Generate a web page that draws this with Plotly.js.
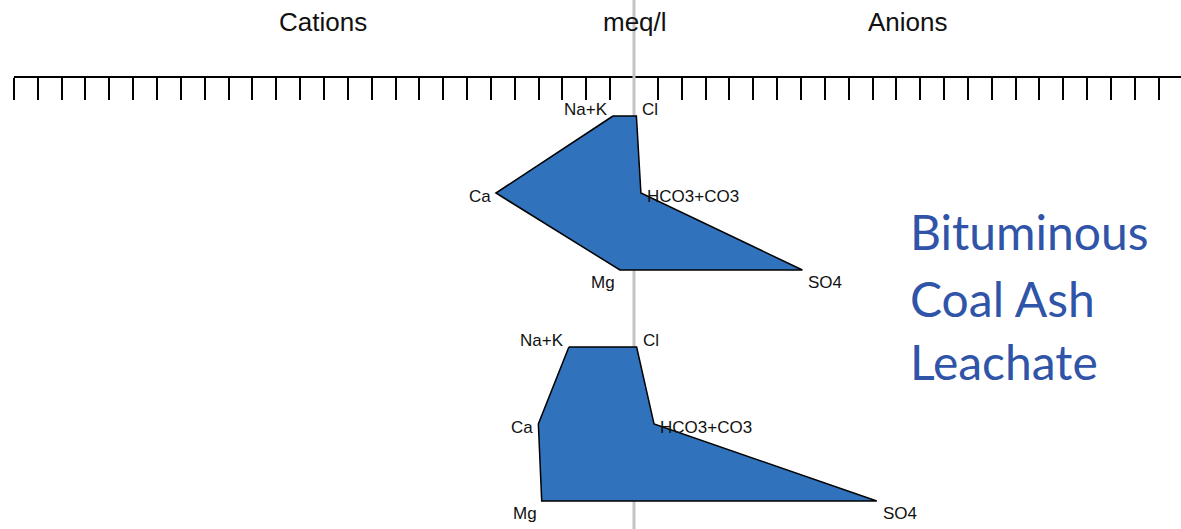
<!DOCTYPE html>
<html>
<head>
<meta charset="utf-8">
<script src="https://cdn.plot.ly/plotly-3.0.1.min.js"></script>
<style>html,body{margin:0;padding:0;background:#fff;}#chart{width:1181px;height:529px;}</style>
</head>
<body>
<div id="chart"></div>
<script>
// ---- data (meq/l) ----
var cationNames = ["Na+K", "Ca", "Mg"];
var anionNames = ["Cl", "HCO3+CO3", "SO4"];
var sample1Cations = [0.88, 5.79, 0.59];
var sample1Anions = [0.10, 0.29, 7.06];
var sample2Cations = [2.73, 4.01, 3.87];
var sample2Anions = [0.11, 0.84, 10.18];
var axisTitles = ["Cations", "meq/l", "Anions"];
var sideText = ["Bituminous", "Coal Ash", "Leachate"];

var W = 1181, H = 529;
var pxPerUnit = 23.85, x0px = 634;
var xRange = [-x0px / pxPerUnit, (W - x0px) / pxPerUnit];
var rowTop = 116, rowStep = 77;
var yRange = [(H - rowTop) / rowStep, -rowTop / rowStep];
var tickMin = -26, tickMax = 22;

var samples = [
  {cat: sample1Cations, an: sample1Anions, row0: 0},
  {cat: sample2Cations, an: sample2Anions, row0: 3}
];

var traces = [];
var annotations = [];
var labelFont = {family: "Liberation Sans, Arial, sans-serif", size: 17, color: "#111"};
var yShifts = [7, -3, -12];

samples.forEach(function (s) {
  var r = s.row0;
  var xs = [-s.cat[0], s.an[0], s.an[1], s.an[2], -s.cat[2], -s.cat[1], -s.cat[0]];
  var ys = [r, r, r + 1, r + 2, r + 2, r + 1, r];
  traces.push({
    type: "scatter", mode: "lines", x: xs, y: ys, fill: "toself",
    fillcolor: "#3172bc", line: {color: "#000", width: 1.5},
    hoverinfo: "skip", showlegend: false
  });
  for (var i = 0; i < 3; i++) {
    annotations.push({
      x: -s.cat[i], y: r + i, xref: "x", yref: "y", text: cationNames[i],
      showarrow: false, xanchor: "right", yanchor: "middle", xshift: -3, yshift: yShifts[i],
      font: labelFont
    });
    annotations.push({
      x: s.an[i], y: r + i, xref: "x", yref: "y", text: anionNames[i],
      showarrow: false, xanchor: "left", yanchor: "middle", xshift: 4, yshift: yShifts[i],
      font: labelFont
    });
  }
});

var titleX = [323, 635, 908];
axisTitles.forEach(function (t, i) {
  annotations.push({
    x: titleX[i] / W, y: 1 - 22 / H, xref: "paper", yref: "paper", text: t,
    showarrow: false, xanchor: "center", yanchor: "middle",
    font: {family: "Liberation Sans, Arial, sans-serif", size: 26, color: "#111"}
  });
});

var sideY = [232, 298, 361];
sideText.forEach(function (t, i) {
  annotations.push({
    x: 908 / W, y: 1 - sideY[i] / H, xref: "paper", yref: "paper", text: t,
    showarrow: false, xanchor: "left", yanchor: "middle",
    font: {family: "Lato, Carlito, sans-serif", size: 48, color: "#2f54a8"}
  });
});

var tickvals = [];
for (var v = tickMin; v <= tickMax; v++) { if (v !== 0) tickvals.push(v); }

var layout = {
  width: W, height: H,
  margin: {l: 0, r: 0, t: 0, b: 0},
  paper_bgcolor: "#fff", plot_bgcolor: "#fff",
  showlegend: false,
  xaxis: {
    range: xRange, anchor: "free", position: 1 - 77 / H, side: "top",
    showgrid: false, zeroline: false, showline: false,
    ticks: "inside", ticklen: 22, tickwidth: 2, tickcolor: "#000",
    tickmode: "array", tickvals: tickvals, showticklabels: false, fixedrange: true
  },
  yaxis: {
    range: yRange, showgrid: false, zeroline: false, showline: false,
    showticklabels: false, ticks: "", fixedrange: true
  },
  shapes: [
    {type: "line", xref: "x", yref: "paper", x0: tickMin, x1: xRange[1], y0: 1 - 77 / H, y1: 1 - 77 / H,
     line: {color: "#000", width: 2}, layer: "below"},
    {type: "line", xref: "x", yref: "paper", x0: 0, x1: 0, y0: 0, y1: 1,
     line: {color: "#c4c4c4", width: 3}, layer: "below"}
  ],
  annotations: annotations
};

Plotly.newPlot("chart", traces, layout, {displayModeBar: false, staticPlot: true});
</script>
</body>
</html>
